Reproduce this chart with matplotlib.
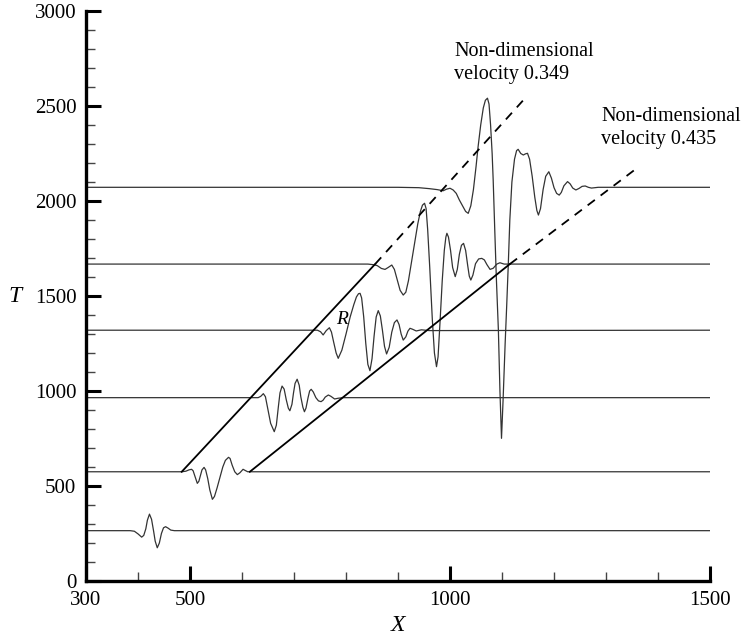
import numpy as np
import matplotlib
matplotlib.use('Agg')
import matplotlib.pyplot as plt
from matplotlib.ticker import MultipleLocator

plt.rcParams['font.family'] = ['Liberation Serif', 'DejaVu Serif']

# wave traces, (X, T), one per time level
x1 = [300, 385, 393, 400, 407, 411, 415, 418, 422, 426, 430, 433, 437, 441, 445, 449, 453, 458, 463, 470, 1500]
t1 = [265, 265, 262, 248, 231, 240, 275, 320, 352, 325, 262, 210, 175, 200, 250, 280, 286, 278, 268, 265, 265]

x2 = [300, 484, 492, 498, 503, 506, 509, 514, 517, 520, 523, 527, 530, 534, 538, 543, 547, 552, 558, 563, 568,
      574, 577, 581, 586, 591, 596, 602, 606, 611, 1500]
t2 = [575, 575, 578, 585, 588, 580, 555, 514, 525, 555, 585, 598, 585, 540, 480, 430, 445, 490, 550, 600, 635,
      651, 645, 610, 575, 560, 570, 588, 582, 575, 575]

x3 = [300, 631, 636, 641, 645, 650, 655, 662, 666, 670, 673, 677, 681, 685, 689, 692, 696, 699, 702, 706, 710,
      713, 717, 720, 723, 727, 730, 733, 737, 742, 747, 752, 756, 760, 766, 771, 778, 785, 795, 1500]
t3 = [965, 965, 972, 986, 970, 900, 830, 786, 820, 920, 990, 1026, 1010, 955, 910, 896, 930, 990, 1040, 1062, 1030,
      970, 915, 891, 910, 965, 1000, 1009, 995, 965, 948, 944, 952, 968, 979, 972, 958, 962, 965, 965]

x4 = [300, 745, 751, 756, 762, 768, 772, 776, 781, 785, 792, 800, 808, 815, 820, 824, 827, 830, 834, 838, 842,
      846, 850, 854, 858, 862, 866, 870, 874, 878, 883, 888, 893, 898, 902, 906, 910, 915, 919, 923, 928, 935,
      945, 960, 1500]
t4 = [1320, 1320, 1312, 1295, 1318, 1333, 1310, 1260, 1200, 1172, 1215, 1300, 1390, 1455, 1495, 1512, 1514, 1490,
      1390, 1250, 1140, 1107, 1170, 1290, 1390, 1423, 1395, 1320, 1235, 1195, 1230, 1310, 1360, 1374, 1350, 1300,
      1268, 1285, 1315, 1330, 1325, 1316, 1322, 1318, 1320]

x5 = [300, 842, 852, 860, 868, 875, 881, 888, 893, 898, 904, 910, 915, 920, 926, 932, 938, 943, 947, 951, 954,
      957, 961, 966, 970, 974, 977, 981, 985, 989, 992, 994, 997, 1001, 1005, 1010, 1014, 1018, 1022, 1026, 1030,
      1034, 1037, 1040, 1044, 1049, 1055, 1061, 1066, 1071, 1077, 1083, 1090, 1096, 1104, 1115, 1500]
t5 = [1668, 1668, 1665, 1660, 1645, 1640, 1650, 1663, 1640, 1590, 1530, 1505, 1520, 1580, 1680, 1780, 1880, 1945,
      1978, 1988, 1960, 1850, 1650, 1374, 1200, 1128, 1180, 1374, 1580, 1740, 1810, 1830, 1810, 1740, 1650, 1602,
      1640, 1720, 1767, 1777, 1740, 1660, 1605, 1584, 1610, 1670, 1695, 1698, 1690, 1665, 1640, 1646, 1668, 1675,
      1668, 1668, 1668]

x6 = [300, 900, 940, 960, 975, 987, 993, 1000, 1006, 1012, 1018, 1025, 1030, 1035, 1040, 1045, 1050, 1054, 1059,
      1064, 1068, 1072, 1075, 1078, 1081, 1083, 1086, 1089, 1093, 1096, 1099, 1102, 1106, 1109, 1112, 1115, 1119,
      1124, 1128, 1131, 1136, 1141, 1145, 1149, 1153, 1158, 1163, 1167, 1170, 1174, 1179, 1184, 1190, 1195, 1200,
      1205, 1210, 1214, 1219, 1226, 1231, 1236, 1242, 1248, 1254, 1260, 1266, 1272, 1285, 1500]
t6 = [2072, 2072, 2070, 2065, 2060, 2054, 2062, 2067, 2058, 2040, 2005, 1970, 1945, 1935, 1975, 2060, 2180, 2286,
      2400, 2490, 2530, 2541, 2510, 2400, 2250, 2110, 1850, 1600, 1320, 1000, 751, 950, 1250, 1450, 1663, 1900,
      2100, 2220, 2265, 2272, 2250, 2242, 2248, 2251, 2220, 2130, 2020, 1950, 1926, 1960, 2060, 2130, 2154, 2120,
      2070, 2040, 2031, 2045, 2080, 2102, 2090, 2068, 2058, 2066, 2077, 2079, 2072, 2068, 2072, 2072]

# characteristic lines: solid part then dashed extension
v1_solid_x = [484, 856]
v1_solid_t = [575, 1668]
v1_dash_x = [856, 1147]
v1_dash_t = [1668, 2549]

v2_solid_x = [615, 1115]
v2_solid_t = [575, 1668]
v2_dash_x = [1115, 1359]
v2_dash_t = [1668, 2172]

fig = plt.figure(figsize=(7.5, 6.38), dpi=100)
ax = fig.add_axes([0.1147, 0.0893, 0.832, 0.8935])

for xs, ts in [(x1, t1), (x2, t2), (x3, t3), (x4, t4), (x5, t5), (x6, t6)]:
    ax.plot(xs, ts, '-', color='#333333', lw=0.9)

ax.plot(v1_solid_x, v1_solid_t, '-', color='black', lw=1.3)
ax.plot(v1_dash_x, v1_dash_t, '--', color='black', lw=1.3, dashes=(5, 4))
ax.plot(v2_solid_x, v2_solid_t, '-', color='black', lw=1.3)
ax.plot(v2_dash_x, v2_dash_t, '--', color='black', lw=1.3, dashes=(5, 4))

ax.text(1008, 2726, 'Non-dimensional\nvelocity 0.349', fontsize=14.5, va='center', ha='left', linespacing=1.3)
ax.text(1291, 2384, 'Non-dimensional\nvelocity 0.435', fontsize=14.5, va='center', ha='left', linespacing=1.3)
ax.text(793, 1377, 'R', fontsize=14, style='italic', ha='center', va='center')

ax.set_xlim(300, 1500)
ax.set_ylim(0, 3000)
ax.set_xticks([300, 500, 1000, 1500])
ax.set_yticks(np.arange(0, 3001, 500))
ax.xaxis.set_minor_locator(MultipleLocator(100))
ax.yaxis.set_minor_locator(MultipleLocator(100))

for s in ['top', 'right']:
    ax.spines[s].set_visible(False)
for s in ['left', 'bottom']:
    ax.spines[s].set_linewidth(2.4)

ax.tick_params(which='major', direction='in', length=11, width=2.2, labelsize=15, pad=7)
ax.tick_params(which='minor', direction='in', length=6.5, width=1.0, color='#444444')

ax.set_xlabel('X', fontsize=17, style='italic', labelpad=4)
ax.set_ylabel('T', fontsize=17, style='italic', rotation=0, labelpad=14, va='center')

plt.savefig('out.png', dpi=100)
